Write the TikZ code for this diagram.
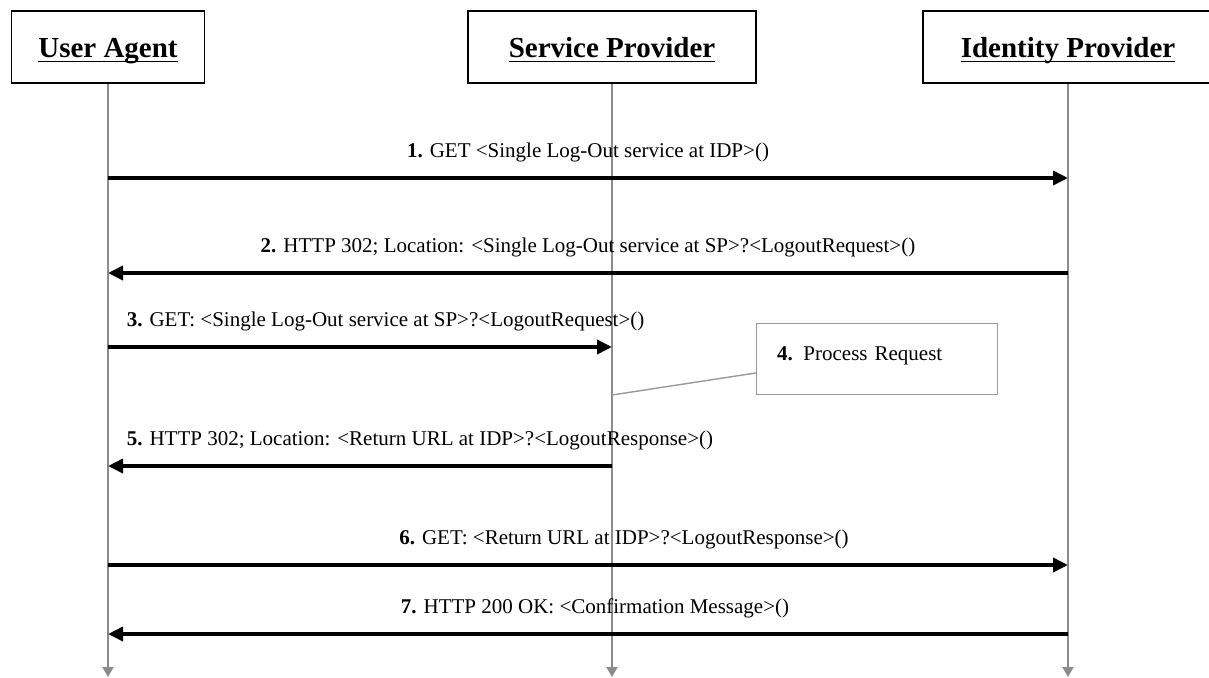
\documentclass[tikz,border=0pt]{standalone}
\usepackage{fontspec}
\setmainfont{Liberation Serif}
\usepackage{xcolor}
\definecolor{lifeGray}{HTML}{8C8C8C}
\definecolor{noteGray}{HTML}{999999}
\usetikzlibrary{arrows.meta,positioning,calc}
% underline drawn just below the baseline, crossing the descenders
\newcommand{\partyname}[1]{\setbox0\hbox{#1}\rlap{\rule[-4.5pt]{\wd0}{1.6pt}}\box0}
\tikzset{
    % Header boxes for the three parties
    party/.style={
        draw=black,
        line width=1.6pt,
        minimum height=72pt,
        inner sep=0pt,
        text height=28pt,
        text depth=6pt,
        font=\fontsize{29}{34}\selectfont\bfseries,
    },
    % Grey lifelines running down the page
    lifeline/.style={
        draw=lifeGray,
        line width=1.6pt,
        -{Triangle[length=10pt, width=11pt]},
    },
    % Thick message arrows
    msg/.style={
        draw=black,
        line width=3.6pt,
        -{Triangle[length=15pt, width=14pt]},
    },
    % Text over a message
    msg label/.style={
        font=\fontsize{21}{25}\selectfont,
        inner sep=0pt,
    },
    % Note box for the processing step
    note/.style={
        draw=noteGray,
        line width=1.4pt,
        minimum width=241pt,
        minimum height=71pt,
        text width=200pt,
        align=left,
        text depth=12pt,
        font=\fontsize{21}{25}\selectfont,
    },
    note line/.style={
        draw=noteGray,
        line width=1.4pt,
    },
}

\begin{document}
\begin{tikzpicture}[x=1pt, y=-1pt]
    \useasboundingbox (0,0) rectangle (1209,677);

    % parties
    \node (ua) [party, minimum width=193pt] at (108,47) {\partyname{User Agent}};
    \node (sp) [party, minimum width=288pt] at (612,47) {\partyname{Service Provider}};
    \node (idp) [party, minimum width=290pt] at (1068,47) {\partyname{Identity Provider}};

    % lifelines
    \coordinate (uaEnd) at (108,677);
    \coordinate (spEnd) at (612,677);
    \coordinate (idpEnd) at (1068,677);
    \draw [lifeline] (ua) -- (uaEnd);
    \draw [lifeline] (sp) -- (spEnd);
    \draw [lifeline] (idp) -- (idpEnd);

    % message end points on the lifelines
    \coordinate (ua1) at (108,178);
    \coordinate (idp1) at (1068,178);
    \coordinate (ua2) at (108,273);
    \coordinate (idp2) at (1068,273);
    \coordinate (ua3) at (108,347);
    \coordinate (sp3) at (612,347);
    \coordinate (sp4) at (612,395);
    \coordinate (ua5) at (108,466);
    \coordinate (sp5) at (612,466);
    \coordinate (ua6) at (108,565);
    \coordinate (idp6) at (1068,565);
    \coordinate (ua7) at (108,634);
    \coordinate (idp7) at (1068,634);

    % messages
    \draw [msg] (ua1) -- node[msg label, above=14pt] {\textbf{1.} GET <Single Log-Out service at IDP>()} (idp1);
    \draw [msg] (idp2) -- node[msg label, above=14pt] {\textbf{2.} HTTP 302; Location: <Single Log-Out service at SP>?<LogoutRequest>()} (ua2);
    \draw [msg] (ua3) -- node[msg label, pos=0, anchor=south west, xshift=17pt, yshift=14pt] {\textbf{3.} GET: <Single Log-Out service at SP>?<LogoutRequest>()} (sp3);

    \node (proc) [note, anchor=north west] at (756,323) {\textbf{4.} Process Request};
    \draw [note line] ($(proc.south west)!0.31!(proc.north west)$) -- (sp4);

    \draw [msg] (sp5) -- node[msg label, pos=1, anchor=south west, xshift=17pt, yshift=14pt] {\textbf{5.} HTTP 302; Location: <Return URL at IDP>?<LogoutResponse>()} (ua5);
    \draw [msg] (ua6) -- node[msg label, above=14pt, xshift=36pt] {\textbf{6.} GET: <Return URL at IDP>?<LogoutResponse>()} (idp6);
    \draw [msg] (idp7) -- node[msg label, above=14pt, xshift=7pt] {\textbf{7.} HTTP 200 OK: <Confirmation Message>()} (ua7);
\end{tikzpicture}
\end{document}
